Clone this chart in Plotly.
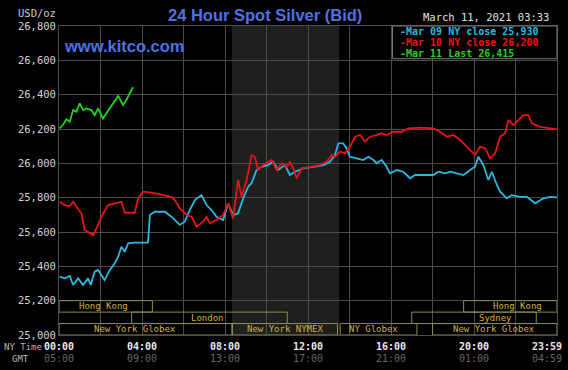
import plotly.graph_objects as go

# ---- data (NY time in decimal hours, price USD/oz) ----
cyan_t = [0.03,0.27,0.52,0.68,0.92,1.16,1.40,1.53,1.72,1.88,2.20,2.45,2.69,2.85,3.01,3.17,3.33,3.65,4.29,4.38,
          4.62,5.10,5.42,5.82,6.06,6.30,6.55,6.87,7.11,7.35,7.59,7.91,8.15,8.39,8.63,8.88,9.12,9.28,9.52,9.76,
          10.08,10.32,10.56,10.89,11.13,11.37,11.77,12.25,12.74,13.06,13.30,13.46,13.70,13.86,14.02,14.35,14.66,14.91,15.15,15.31,
          15.55,15.79,15.95,16.28,16.59,16.92,17.16,17.40,18.04,18.28,18.61,18.85,19.17,19.49,19.81,20.05,20.21,20.45,20.69,20.86,
          21.10,21.26,21.58,21.82,22.22,22.55,22.95,23.35,23.67,23.99]
cyan_v = [25.340,25.330,25.344,25.291,25.330,25.291,25.330,25.291,25.369,25.379,25.320,25.379,25.418,25.456,25.514,25.485,25.534,25.538,25.538,25.699,
          25.718,25.718,25.689,25.641,25.660,25.728,25.786,25.815,25.757,25.728,25.689,25.670,25.767,25.699,25.709,25.796,25.864,25.884,25.961,25.980,
          25.990,26.009,25.961,25.990,25.932,25.951,25.971,25.980,25.990,26.009,26.048,26.116,26.116,26.087,26.038,26.029,26.019,26.038,26.019,26.000,
          26.019,25.980,25.942,25.961,25.951,25.913,25.932,25.932,25.932,25.951,25.942,25.951,25.942,25.932,25.961,25.980,26.038,25.990,25.903,25.951,
          25.874,25.835,25.796,25.815,25.805,25.805,25.767,25.796,25.805,25.802]

red_t = [0.03,0.27,0.52,0.68,0.84,1.08,1.24,1.48,1.64,1.80,2.05,2.36,2.77,3.01,3.17,3.65,3.81,4.05,4.46,4.94,
         5.42,5.58,5.82,6.15,6.39,6.63,6.95,7.11,7.27,7.59,7.91,8.15,8.39,8.63,8.80,9.04,9.28,9.44,9.60,9.84,
         10.08,10.25,10.49,10.73,10.97,11.13,11.29,11.45,11.69,12.09,12.58,12.90,13.14,13.30,13.54,13.78,14.02,14.27,14.51,14.75,
         14.99,15.31,15.55,15.79,16.11,16.52,16.84,17.40,18.04,18.37,18.69,19.01,19.33,19.57,19.81,20.05,20.29,20.54,20.78,21.02,
         21.26,21.50,21.66,21.90,22.14,22.38,22.62,22.79,23.19,23.59,23.99]
red_v = [25.776,25.757,25.751,25.776,25.747,25.709,25.612,25.596,25.582,25.621,25.689,25.757,25.771,25.776,25.712,25.712,25.796,25.835,25.829,25.815,
         25.805,25.786,25.738,25.699,25.689,25.631,25.660,25.689,25.651,25.670,25.699,25.767,25.680,25.903,25.805,25.903,26.048,26.038,25.961,25.990,
         26.009,26.019,25.961,26.000,25.980,26.008,25.971,25.913,25.971,25.980,25.990,26.009,26.048,26.038,26.068,26.058,26.097,26.155,26.165,26.126,
         26.155,26.165,26.175,26.165,26.184,26.184,26.204,26.208,26.204,26.184,26.155,26.165,26.136,26.107,26.078,26.048,26.097,26.087,26.029,26.058,
         26.155,26.175,26.252,26.223,26.252,26.281,26.281,26.233,26.213,26.204,26.198]

green_t = [0.03,0.19,0.36,0.52,0.68,0.84,1.00,1.16,1.32,1.56,1.72,1.88,2.12,2.45,2.69,2.85,3.09,3.25,3.41,3.57]
green_v = [26.204,26.223,26.256,26.242,26.310,26.301,26.349,26.310,26.320,26.310,26.281,26.320,26.262,26.320,26.369,26.392,26.340,26.369,26.408,26.443]

series_names = ["Mar 09 NY close 25,930", "Mar 10 NY close 26,200", "Mar 11 Last 26,415"]

y_ticks = [25.0, 25.2, 25.4, 25.6, 25.8, 26.0, 26.2, 26.4, 26.6, 26.8]
y_tick_labels = ["25,000", "25,200", "25,400", "25,600", "25,800", "26,000", "26,200", "26,400", "26,600", "26,800"]
x_tick_hours = [0, 4, 8, 12, 16, 20, 23.983]
x_tick_ny = ["00:00", "04:00", "08:00", "12:00", "16:00", "20:00", "23:59"]
x_tick_gmt = ["05:00", "09:00", "13:00", "17:00", "21:00", "01:00", "04:59"]

# sessions: label, start hour, end hour, row, label hour
sessions = [
    ("Hong Kong", 0.0, 4.5, 1, 2.16),
    ("London", 3.5, 11.0, 2, 7.17),
    ("New York Globex", 0.0, 8.33, 3, 3.68),
    ("New York NYMEX", 8.36, 13.42, 3, 10.89),
    ("NY Globex", 13.55, 17.25, 3, 15.18),
    ("New York Globex", 18.0, 24.0, 3, 20.97),
    ("Sydney", 17.0, 23.0, 2, 21.02),
    ("Hong Kong", 19.5, 24.0, 1, 22.08),
]
nymex_start, nymex_end = 8.333, 13.5

# ---- style ----
CYAN = "#2db6e0"
RED = "#ea1418"
GREEN = "#22d022"
GRID = "#4c4c4c"
BLUE = "#4f72e3"
GOLD = "#d6b240"
BOXC = "#8e8a52"
MONO = "DejaVu Sans Mono"

W, H = 568, 370
L, R, T, B = 59, 11, 26, 35


def px(x):
    return (x - L) / (W - L - R)


def py(y):
    return (H - B - y) / (H - T - B)


fig = go.Figure()
for t, v, c in [(cyan_t, cyan_v, CYAN), (red_t, red_v, RED), (green_t, green_v, GREEN)]:
    fig.add_trace(go.Scatter(x=t, y=v, mode="lines", line=dict(color=c, width=1.8),
                             showlegend=False, hoverinfo="skip"))

shapes = []
# NYMEX shading
shapes.append(dict(type="rect", xref="x", yref="y", x0=nymex_start, x1=nymex_end, y0=25.0, y1=26.8,
                   fillcolor="#1d201d", line=dict(width=0), layer="below"))
row_h = 0.2 / 3
annotations = []
for name, s, e, row, lx in sessions:
    y1 = 25.2 - (row - 1) * row_h
    y0 = y1 - row_h
    shapes.append(dict(type="rect", xref="x", yref="y", x0=s, x1=e, y0=y0, y1=y1,
                       line=dict(color=BOXC, width=1), fillcolor="rgba(0,0,0,0)", layer="above"))
    annotations.append(dict(x=lx, y=(y0 + y1) / 2, xref="x", yref="y", text=name, showarrow=False,
                            font=dict(family=MONO, size=9, color=GOLD), xanchor="center", yanchor="middle"))

# legend box
shapes.append(dict(type="rect", xref="paper", yref="paper", x0=px(392.5), x1=1.0, y0=py(58.7), y1=1.0,
                   fillcolor="black", line=dict(color="#7a7a7a", width=1), layer="above"))
for i, (nm, c) in enumerate(zip(series_names, [CYAN, RED, GREEN])):
    annotations.append(dict(x=px(397.5), y=py(31.8 + i * 10.9), xref="paper", yref="paper",
                            text="<b>-" + nm + "</b>", showarrow=False, xanchor="left", yanchor="middle",
                            font=dict(family=MONO, size=10, color=c)))

# titles / texts
annotations += [
    dict(x=px(265), y=py(15), xref="paper", yref="paper", text="<b>24 Hour Spot Silver (Bid)</b>",
         showarrow=False, font=dict(family="Liberation Sans", size=16.5, color=BLUE),
         xanchor="center", yanchor="middle"),
    dict(x=px(61.5), y=py(46), xref="paper", yref="paper", text="<b>www.kitco.com</b>",
         showarrow=False, font=dict(family="Liberation Sans", size=16.5, color=BLUE),
         xanchor="left", yanchor="middle"),
    dict(x=px(16), y=py(12.5), xref="paper", yref="paper", text="USD/oz", showarrow=False,
         font=dict(family=MONO, size=10.5, color="#c8c8c8"), xanchor="left", yanchor="middle"),
    dict(x=px(421), y=py(17), xref="paper", yref="paper", text="March 11, 2021 03:33", showarrow=False,
         font=dict(family=MONO, size=10.5, color="#e0e0e0"), xanchor="left", yanchor="middle"),
    dict(x=px(2), y=py(346.5), xref="paper", yref="paper", text="NY Time", showarrow=False,
         font=dict(family=MONO, size=9, color="#b8b8b8"), xanchor="left", yanchor="middle"),
    dict(x=px(10), y=py(358.5), xref="paper", yref="paper", text="GMT", showarrow=False,
         font=dict(family=MONO, size=9, color="#b8b8b8"), xanchor="left", yanchor="middle"),
]
for h, ny, g in zip(x_tick_hours, x_tick_ny, x_tick_gmt):
    xx = 23.5 if h > 23 else h
    annotations.append(dict(x=xx, y=py(346.5), xref="x", yref="paper", text="<b>" + ny + "</b>",
                            showarrow=False, font=dict(family=MONO, size=10, color="#e8e8e8"),
                            xanchor="center", yanchor="middle"))
    annotations.append(dict(x=xx, y=py(358.5), xref="x", yref="paper", text=g,
                            showarrow=False, font=dict(family=MONO, size=10, color="#686868"),
                            xanchor="center", yanchor="middle"))

fig.update_layout(
    width=W, height=H, margin=dict(l=L, r=R, t=T, b=B),
    paper_bgcolor="black", plot_bgcolor="black",
    shapes=shapes, annotations=annotations, showlegend=False,
    xaxis=dict(range=[0, 24], tickvals=list(range(0, 25, 2)), showticklabels=False,
               showgrid=True, gridcolor=GRID, gridwidth=1, zeroline=False,
               showline=True, linecolor=GRID, mirror=True, ticks=""),
    yaxis=dict(range=[25.0, 26.8], tickvals=y_ticks, ticktext=y_tick_labels,
               showgrid=True, gridcolor=GRID, gridwidth=1, zeroline=False,
               showline=True, linecolor=GRID, mirror=True, ticks="",
               tickfont=dict(family=MONO, size=10.5, color="#d4d4d4")),
)

fig.write_html("out.html", config={"displayModeBar": False},
               post_script="document.body.style.margin='0';document.body.style.background='#000';")
